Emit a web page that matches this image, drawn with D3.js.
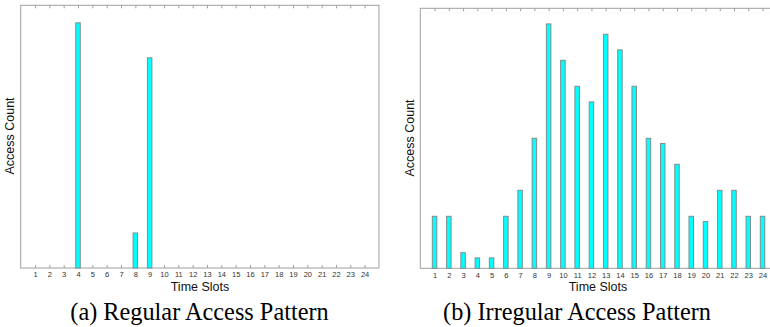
<!DOCTYPE html>
<html><head><meta charset="utf-8">
<script src="https://cdn.jsdelivr.net/npm/d3@7"></script>
<style>body{margin:0;background:#fff}svg{display:block}</style>
</head><body>
<script>
const slots = d3.range(1, 25);
const slotLabels = slots.map(String);
const regularValues = [0,0,0,70,0,0,0,10,60,0,0,0,0,0,0,0,0,0,0,0,0,0,0,0];
const irregularValues = [10,10,3,2,2,10,15,25,47,40,35,32,45,42,35,25,24,20,10,9,15,15,10,10];
const xLabel = "Time Slots";
const yLabel = "Access Count";
const captions = ["(a) Regular Access Pattern", "(b) Irregular Access Pattern"];

const svg = d3.select("body").append("svg").attr("width", 770).attr("height", 327);

function panel(cfg) {
  const g = svg.append("g");
  const x = d3.scaleLinear().domain([0, 25]).range([cfg.left, cfg.left + 25 * cfg.step]);
  const y = d3.scaleLinear().domain([0, cfg.ymax]).range([cfg.bottom, cfg.top]);
  g.append("rect").attr("x", cfg.left).attr("y", cfg.top)
    .attr("width", x(25) - cfg.left).attr("height", cfg.bottom - cfg.top)
    .attr("fill", "none").attr("stroke", "#a0a0a0").attr("stroke-width", 1);
  const bottomAxis = d3.axisBottom(x).tickValues(slots).tickSize(-3).tickPadding(4)
    .tickFormat((d, i) => slotLabels[i]);
  const ga = g.append("g").attr("transform", `translate(0,${cfg.bottom})`).call(bottomAxis);
  ga.select(".domain").remove();
  ga.selectAll("line").attr("stroke", "#a0a0a0");
  ga.selectAll("text").attr("fill", "#333").style("font-family", "Arial, 'Liberation Sans', sans-serif").style("font-size", "7.5px");
  const topAxis = d3.axisTop(x).tickValues(slots).tickSize(-3).tickFormat("");
  const gt = g.append("g").attr("transform", `translate(0,${cfg.top})`).call(topAxis);
  gt.select(".domain").remove();
  gt.selectAll("line").attr("stroke", "#a0a0a0");
  const bw = 4.5;
  g.selectAll("rect.bar").data(cfg.values.map((v, i) => ({s: slots[i], v})).filter(d => d.v > 0))
    .join("rect").attr("class", "bar")
    .attr("x", d => x(d.s) - bw / 2).attr("y", d => y(d.v))
    .attr("width", bw).attr("height", d => y(0) - y(d.v))
    .attr("fill", "#00ffff").attr("stroke", "#7f8f8f").attr("stroke-width", 1);
  g.append("text").attr("x", cfg.xlabelX).attr("y", 291).attr("text-anchor", "middle")
    .style("font-family", "Arial, 'Liberation Sans', sans-serif").style("font-size", "12.5px").attr("fill", "#111").text(xLabel);
  g.append("text").attr("transform", `translate(${cfg.ylabelX},${cfg.ylabelY}) rotate(-90)`).attr("text-anchor", "middle")
    .style("font-family", "Arial, 'Liberation Sans', sans-serif").style("font-size", "12.5px").attr("fill", "#111").text(yLabel);
  g.append("text").attr("x", cfg.capX).attr("y", 320).attr("text-anchor", "middle")
    .style("font-family", "'Liberation Serif', 'Times New Roman', serif").style("font-size", "24.3px").attr("fill", "#000").text(cfg.caption);
}

panel({left: 20.7, step: 14.33, top: 5.3, bottom: 268, ymax: 75, values: regularValues,
  xlabelX: 200, ylabelX: 14, ylabelY: 136, capX: 199.5, caption: captions[0]});
panel({left: 420.3, step: 14.26, top: 8.3, bottom: 268.3, ymax: 50, values: irregularValues,
  xlabelX: 598, ylabelX: 414, ylabelY: 138, capX: 577, caption: captions[1]});
</script>
</body></html>
